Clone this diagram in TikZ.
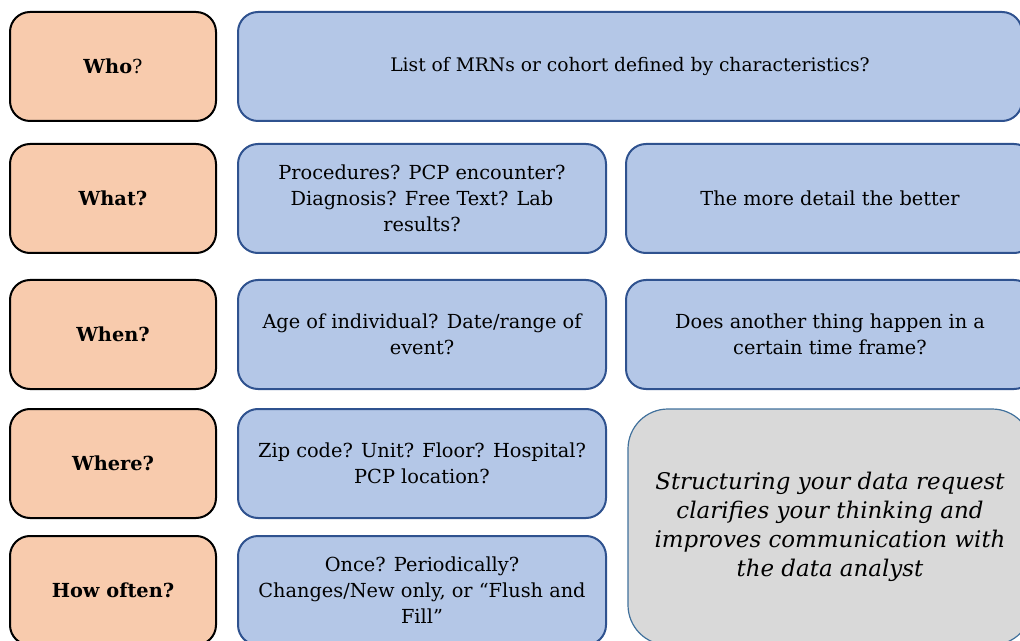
\documentclass[tikz,border=0pt]{standalone}
\usepackage{fontspec}
\setmainfont{DejaVu Serif}
\usetikzlibrary{positioning}
\definecolor{peach}{HTML}{F8CBAD}
\definecolor{paleblue}{HTML}{B4C7E7}
\definecolor{navy}{HTML}{2F528F}
\definecolor{softgray}{HTML}{D9D9D9}
\definecolor{steel}{HTML}{41719C}
\tikzset{
  askbox/.style={draw=black,fill=peach,line width=1.5pt,rounded corners=15pt,outer sep=0pt,
    minimum width=154.5pt,minimum height=81.75pt,align=center,
    font=\bfseries\fontsize{14.5}{19.5}\selectfont},
  ansbox/.style={draw=navy,fill=paleblue,line width=1.5pt,rounded corners=15pt,outer sep=0pt,
    minimum height=81.75pt,align=center,font=\fontsize{14.5}{19.5}\selectfont},
  notebox/.style={draw=steel,fill=softgray,line width=0.9pt,rounded corners=30pt,outer sep=0pt,
    minimum width=303pt,minimum height=177pt,align=center,
    font=\itshape\fontsize{17.2}{21.75}\selectfont}
}

\begin{document}
\begin{tikzpicture}[x=0.75pt,y=-0.75pt]
\useasboundingbox (0,0) rectangle (1020,641);
% question column
\node[askbox,anchor=north west] (who) at (10,12) {Who\mdseries?};
\node[askbox,below=17.25pt of who] (what) {What?};
\node[askbox,below=20.25pt of what] (when) {When?};
\node[askbox,below=15pt of when] (where) {Where?};
\node[askbox,below=13.5pt of where] (often) {How often?};
% answers
\node[ansbox,minimum width=588pt,right=16.5pt of who,font=\fontsize{14}{19.5}\selectfont] (whoans) {List of MRNs or cohort defined by characteristics?};
\node[ansbox,minimum width=276pt,right=16.5pt of what] (whatans) {Procedures? PCP encounter?\\Diagnosis? Free Text? Lab\\results?};
\node[ansbox,minimum width=276pt,right=16.5pt of when] (whenans) {Age of individual? Date/range of\\event?};
\node[ansbox,minimum width=276pt,right=16.5pt of where] (whereans) {Zip code? Unit? Floor? Hospital?\\PCP location?};
\node[ansbox,minimum width=276pt,right=16.5pt of often] (oftenans) {Once? Periodically?\\Changes/New only, or “Flush and\\Fill”};
% notes
\node[ansbox,minimum width=306pt,right=15pt of whatans] (whatnote) {The more detail the better};
\node[ansbox,minimum width=306pt,right=15pt of whenans] (whennote) {Does another thing happen in a\\certain time frame?};
\node[notebox,anchor=north west] (summary) at ([xshift=16.5pt]whereans.north east)
  {Structuring your data request\\clarifies your thinking and\\improves communication with\\the data analyst};
\end{tikzpicture}
\end{document}
